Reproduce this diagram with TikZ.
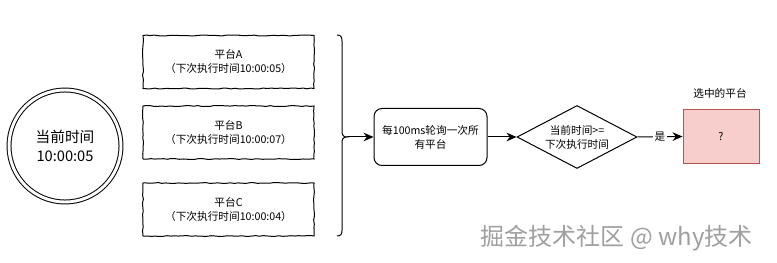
\documentclass[tikz,border=0pt]{standalone}
\usepackage{fontspec}
\setmainfont{Noto Sans CJK SC}
\usetikzlibrary{shapes.geometric,arrows.meta,decorations.pathmorphing}
\begin{document}
\begin{tikzpicture}[x=0.75pt,y=-0.75pt,
  line width=0.75pt,
  txt/.style={font=\fontsize{8}{10.5}\selectfont, align=center, text=black},
  sketch/.style={draw, decorate, decoration={random steps,segment length=3pt,amplitude=0.35pt}},
  platbox/.style={sketch, minimum width=128.25pt, minimum height=39.75pt, inner sep=0pt, txt},
  arr/.style={-{Stealth[length=7.5pt,width=6.5pt]}, line width=0.75pt}
]
\useasboundingbox (0,0) rectangle (777,263);

% current time circle
\node[circle, draw, double, double distance=2.2pt, minimum size=84pt, inner sep=0pt,
      font=\fontsize{11}{14}\selectfont, align=center] (now) at (65,146) {当前时间\\10:00:05};

% platform boxes
\node[platbox] (pa) at (228.5,62)  {平台A\\（下次执行时间10:00:05）};
\node[platbox] (pb) at (228.5,132.5) {平台B\\（下次执行时间10:00:07）};
\node[platbox] (pc) at (228.5,209.5) {平台C\\（下次执行时间10:00:04）};

% brace
\coordinate (bt) at (347,137);
\draw (337,35) .. controls (341,35) and (342,37) .. (342,41) -- (342,131)
      .. controls (342,135) and (343,137) .. (bt)
      .. controls (343,137) and (342,139) .. (342,143) -- (342,230)
      .. controls (342,234) and (341,236) .. (337,236);

% polling box
\node[draw, rounded corners=6pt, minimum width=84.75pt, minimum height=42.75pt, inner sep=0pt, txt] (poll) at (430.5,137) {每100ms轮询一次所\\有平台};

% decision diamond
\node[diamond, draw, minimum width=90pt, minimum height=47.25pt, inner sep=0pt] (dec) at (577,137) {};
\node[txt] (dect) at (dec.center) {当前时间>=\\下次执行时间};

% selected platform
\node[fill={rgb,255:red,248;green,206;blue,204}, minimum width=57pt, minimum height=40.5pt, inner sep=0pt, txt, draw={rgb,255:red,184;green,84;blue,80}] (sel) at (721,136.5) {?};
\node[txt, anchor=south] (selt) at (720,103) {选中的平台};

% connectors
\draw[arr] (bt) -- (poll.west);
\draw[arr] (poll.east) -- (dec.west);
\draw[arr] (dec.east) -- node[fill=white, inner sep=1pt, txt] (yes) {是} (sel.west);

% watermark
\node[anchor=west, font=\fontsize{18}{20}\selectfont, text=gray!75] (wm) at (476,238) {掘金技术社区 @ why技术};
\end{tikzpicture}
\end{document}
